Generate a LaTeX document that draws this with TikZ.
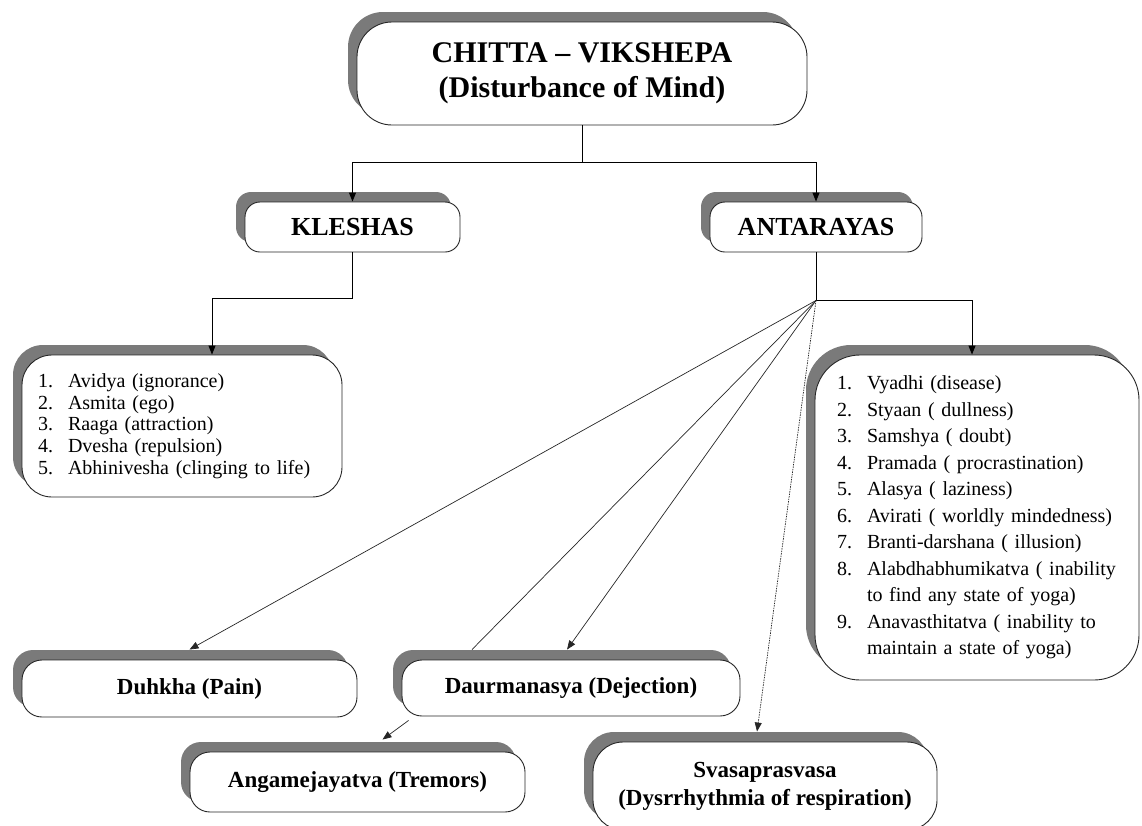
\documentclass[tikz,border=0pt]{standalone}
\usepackage{fontspec}
\setmainfont{Liberation Serif}
\usetikzlibrary{arrows.meta,shadows}
\definecolor{shade}{RGB}{122,122,122}
\newcommand{\itemline}[2]{\makebox[30pt][l]{#1}#2}

\begin{document}
\begin{tikzpicture}[x=1pt,y=-1pt,>={Triangle[length=9pt,width=7pt]},line width=0.9pt,
    main node/.style={rectangle,draw=black!85,fill=white,line width=0.9pt,inner sep=0pt,
      drop shadow={shadow xshift=-9pt,shadow yshift=10pt,fill=shade,opacity=1},
      align=center,font=\fontsize{23}{28}\selectfont\bfseries},
    list node/.style={main node,align=left},
    fan/.style={line width=0.7pt,black!85}]

      \useasboundingbox (0,0) rectangle (1142,825);

      \node[main node,rounded corners=35pt,minimum width=450pt,minimum height=103pt,
        font=\fontsize{30}{35}\selectfont\bfseries] (1) at (582,73.5)
        {CHITTA – VIKSHEPA\\(Disturbance of Mind)};
      \node[main node,rounded corners=15pt,minimum width=215pt,minimum height=50pt,
        font=\fontsize{26}{30}\selectfont\bfseries] (2) at (352.5,227) {KLESHAS};
      \node[main node,rounded corners=15pt,minimum width=212pt,minimum height=50pt,
        font=\fontsize{26}{30}\selectfont\bfseries] (3) at (816,227) {ANTARAYAS};
      \node[list node,rounded corners=30pt,minimum width=320pt,minimum height=142pt,
        text width=288pt,font=\fontsize{20}{21.7}\selectfont] (4) at (182,426)
        {\itemline{1.}{Avidya (ignorance)}\\
         \itemline{2.}{Asmita (ego)}\\
         \itemline{3.}{Raaga (attraction)}\\
         \itemline{4.}{Dvesha (repulsion)}\\
         \itemline{5.}{Abhinivesha (clinging to life)}};
      \node[list node,rounded corners=45pt,minimum width=324pt,minimum height=325pt,
        text width=280pt,font=\fontsize{20}{26.5}\selectfont] (5) at (977,517.5)
        {\itemline{1.}{Vyadhi (disease)}\\
         \itemline{2.}{Styaan ( dullness)}\\
         \itemline{3.}{Samshya ( doubt)}\\
         \itemline{4.}{Pramada ( procrastination)}\\
         \itemline{5.}{Alasya ( laziness)}\\
         \itemline{6.}{Avirati ( worldly mindedness)}\\
         \itemline{7.}{Branti-darshana ( illusion)}\\
         \itemline{8.}{Alabdhabhumikatva ( inability}\\
         \itemline{}{to find any state of yoga)}\\
         \itemline{9.}{Anavasthitatva ( inability to}\\
         \itemline{}{maintain a state of yoga)}};
      \node[main node,rounded corners=20pt,minimum width=335pt,minimum height=57pt]
        (6) at (189.5,688.5) {Duhkha (Pain)};
      \node[main node,rounded corners=20pt,minimum width=338pt,minimum height=56pt]
        (7) at (571,688) {Daurmanasya (Dejection)};
      \node[main node,rounded corners=20pt,minimum width=335pt,minimum height=60pt]
        (8) at (357.5,782) {Angamejayatva (Tremors)};
      \node[main node,rounded corners=30pt,minimum width=344pt,minimum height=88pt]
        (9) at (765,786) {Svasaprasvasa\\(Dysrrhythmia of respiration)};

      % tree part
      \draw (1.south) -- ++(0,37) coordinate (top);
      \draw[->] (top) -| (2.north);
      \draw[->] (top) -| (3.north);
      \coordinate (k) at (212,298);
      \draw[->] (2.south) |- (k) -- (k |- 4.north);
      \draw (3.south) -- ++(0,48) coordinate (hub);
      \draw[->] (hub) -| ([xshift=-5pt]5.north);

      % fan from antarayas
      \draw[fan,->] (hub) -- ([yshift=10pt]6.north);
      \draw[fan] (hub) -- ([xshift=-99pt,yshift=10pt]7.north);
      \draw[fan,->] (hub) -- ([xshift=-4pt,yshift=10pt]7.north);
      \draw[fan,->,dash pattern=on 1.5pt off 1pt] (hub) -- ([xshift=-8pt,yshift=10pt]9.north);
      \draw[fan,->] ([xshift=7pt,yshift=-4pt]7.south west) -- ([xshift=25pt,yshift=12pt]8.north);
\end{tikzpicture}
\end{document}
